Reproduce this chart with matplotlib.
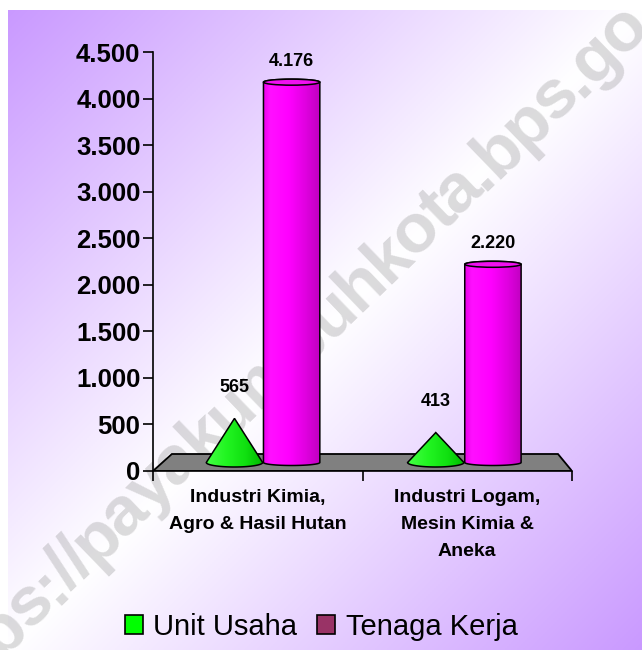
import numpy as np
import matplotlib
matplotlib.use("Agg")
import matplotlib.pyplot as plt
import matplotlib.transforms as mtransforms
from matplotlib.patches import Polygon, Ellipse, Patch
from matplotlib.colors import LinearSegmentedColormap
from matplotlib import font_manager, ft2font
from matplotlib.font_manager import FontProperties

# ---------------- data ----------------
categories = ["Industri Kimia,\nAgro & Hasil Hutan",
              "Industri Logam,\nMesin Kimia &\nAneka"]
series_names = ["Unit Usaha", "Tenaga Kerja"]
unit_usaha = [565, 413]
tenaga_kerja = [4176, 2220]
yticks = [0, 500, 1000, 1500, 2000, 2500, 3000, 3500, 4000, 4500]
watermark = "https://payakumbuhkota.bps.go.id"

def fmt(v):
    return f"{v:,.0f}".replace(",", ".")

W, H = 642, 650
DPI = 100
plt.rcParams["font.family"] = ["Liberation Sans", "DejaVu Sans"]
fig = plt.figure(figsize=(W / DPI, H / DPI), dpi=DPI)

# ---------------- background gradient ----------------
bg = fig.add_axes([8 / W, 0, 1 - 8 / W, 640 / H])
bg.set_axis_off()
nx, ny = 320, 320
X, Y = np.meshgrid(np.linspace(0, 1, nx), np.linspace(0, 1, ny))
t = (X + Y) / 2
wgt = np.clip(1 - np.abs(t - 0.5) * 2, 0, 1)[..., None]
purple = np.array([0.79, 0.60, 1.0])
img = purple * (1 - wgt) + wgt
bg.imshow(img, aspect="auto", extent=[0, 1, 0, 1], origin="upper")
bg.set_xlim(0, 1); bg.set_ylim(0, 1)

# ---------------- watermark (behind chart) ----------------
WM_SIZE = 50
wm_fp = FontProperties(family="Liberation Sans", weight="bold", size=WM_SIZE)
ft = ft2font.FT2Font(font_manager.findfont(wm_fp))
ft.set_size(WM_SIZE, DPI)
advs = np.array([ft.load_char(ord(c)).linearHoriAdvance / 65536
                 for c in watermark])
span = advs[9] / 2 + advs[10:25].sum() + advs[25] / 2
track = (598 - span) / 16
theta = np.deg2rad(44)
u = np.array([np.cos(theta), np.sin(theta)])
n = np.array([-np.sin(theta), np.cos(theta)])
s = np.concatenate([[0], np.cumsum(advs + track)])
anchor = np.array([125, H - 513])  # centre of the 'a' after "p" (index 9)
xh = 0.52 * WM_SIZE * DPI / 72
origin = anchor - (s[9] + advs[9] / 2) * u - (xh / 2) * n
ident = mtransforms.IdentityTransform()
for k, ch in enumerate(watermark):
    p = origin + s[k] * u
    fig.text(p[0], p[1], ch, transform=ident, rotation=44,
             rotation_mode="anchor", ha="left", va="baseline",
             fontproperties=wm_fp, color="#808080", alpha=0.28, zorder=0.5)

# ---------------- main axes ----------------
ax = fig.add_axes([153 / W, (H - 471) / H, (572 - 153) / W, (471 - 52) / H])
ax.set_zorder(2)
ax.patch.set_alpha(0)
ax.set_xlim(0, 2)
ax.set_ylim(0, 4500)

px_y = 4500 / (471 - 52)  # data units per pixel (vertical)

# floor (trapezoid, narrower at the back)
back_l, back_r = 0.09, 2 - 0.067
depth = 17 * px_y
floor = Polygon([(0, 0), (2, 0), (back_r, depth), (back_l, depth)],
                closed=True, facecolor="#808080", edgecolor="black", lw=1.3,
                zorder=1)
ax.add_patch(floor)

# bars stand on the middle depth of the floor (perspective-shrunk x scale)
mid_l, mid_r = back_l / 2, (2 + back_r) / 2
persp = (mid_r - mid_l) / 2

def xmid(x):
    return mid_l + x * persp

base = 8.5 * px_y
width = 0.28 * persp
offset = 0.142
cyl_cmap = LinearSegmentedColormap.from_list(
    "cyl", [(0, "#e800e8"), (0.12, "#ff10ff"), (0.45, "#ff00ff"),
            (0.75, "#e000e0"), (1, "#c000c0")])
cone_cmap = LinearSegmentedColormap.from_list(
    "cone", [(0, "#44ff44"), (0.35, "#22f522"), (0.7, "#10e010"),
             (1, "#00b800")])
grad = np.linspace(0, 1, 256)[None, :]

def gradient_fill(poly, x0, x1, y0, y1, cmap, z):
    ax.add_patch(poly)
    im = ax.imshow(grad, cmap=cmap, aspect="auto", extent=[x0, x1, y0, y1],
                   origin="lower", zorder=z, interpolation="bilinear")
    im.set_clip_path(poly)
    ax.add_patch(Polygon(poly.get_xy(), closed=True, fill=False,
                         edgecolor="black", lw=1.1, zorder=z + 0.1))

def lower_arc(xc, yc, w, h, n=40):
    th = np.linspace(np.pi, 2 * np.pi, n)
    return np.column_stack([xc + w / 2 * np.cos(th), yc + h / 2 * np.sin(th)])

def upper_arc(xc, yc, w, h, n=40):
    th = np.linspace(0, np.pi, n)
    return np.column_stack([xc + w / 2 * np.cos(th), yc + h / 2 * np.sin(th)])

cap_h = 6 * px_y
cone_h = 9 * px_y

for i in range(len(categories)):
    # cone (Unit Usaha)
    xc = xmid(i + 0.5 - offset)
    v = unit_usaha[i]
    pts = np.vstack([[[xc, v]], lower_arc(xc, base, width, cone_h)])
    poly = Polygon(pts, closed=True, facecolor="none", edgecolor="none",
                   zorder=3)
    gradient_fill(poly, xc - width / 2, xc + width / 2, base - cone_h, v,
                  cone_cmap, 3)
    ax.annotate(fmt(v), (xc, v), xytext=(0, 22), textcoords="offset points",
                ha="center", va="center", fontsize=13, weight="bold",
                zorder=6)

    # cylinder (Tenaga Kerja)
    xc = xmid(i + 0.5 + offset)
    v = tenaga_kerja[i]
    body = np.vstack([[[xc - width / 2, v]],
                      lower_arc(xc, base, width, cap_h),
                      [[xc + width / 2, v]],
                      upper_arc(xc, v, width, cap_h)])
    poly = Polygon(body, closed=True, facecolor="none", edgecolor="none",
                   zorder=4)
    gradient_fill(poly, xc - width / 2, xc + width / 2, base - cap_h,
                  v + cap_h, cyl_cmap, 4)
    ax.add_patch(Ellipse((xc, v), width, cap_h, facecolor="#f010f0",
                         edgecolor="black", lw=1.1, zorder=4.5))
    ax.annotate(fmt(v), (xc, v), xytext=(0, 15), textcoords="offset points",
                ha="center", va="center", fontsize=13, weight="bold",
                zorder=6)

# axes styling
for sp in ["top", "right"]:
    ax.spines[sp].set_visible(False)
ax.spines["left"].set_linewidth(1.2)
ax.spines["bottom"].set_linewidth(1.2)
ax.spines["left"].set_zorder(5)
ax.set_yticks(yticks)
ax.set_yticklabels([fmt(v) for v in yticks], fontsize=18.5, weight="bold")
ax.tick_params(axis="y", length=7, width=1.2, pad=2)
ax.set_xticks([0, 1, 2])
ax.set_xticklabels([])
ax.tick_params(axis="x", which="major", length=7, width=1.2)
ax.set_xticks([0.5, 1.5], minor=True)
ax.set_xticklabels(categories, minor=True, fontsize=14, weight="bold",
                   linespacing=1.75, va="top")
ax.tick_params(axis="x", which="minor", length=0, pad=13)

# legend
handles = [Patch(facecolor="#00ff00", edgecolor="black", lw=1.2),
           Patch(facecolor="#993366", edgecolor="black", lw=1.2)]
fig.legend(handles, series_names, loc="center",
           bbox_to_anchor=(321 / W, 1 - 627 / H),
           ncol=2, frameon=False, fontsize=21, handlelength=0.62,
           handleheight=0.62, handletextpad=0.35, columnspacing=0.7,
           borderpad=0)

fig.savefig("out.png", dpi=DPI)
